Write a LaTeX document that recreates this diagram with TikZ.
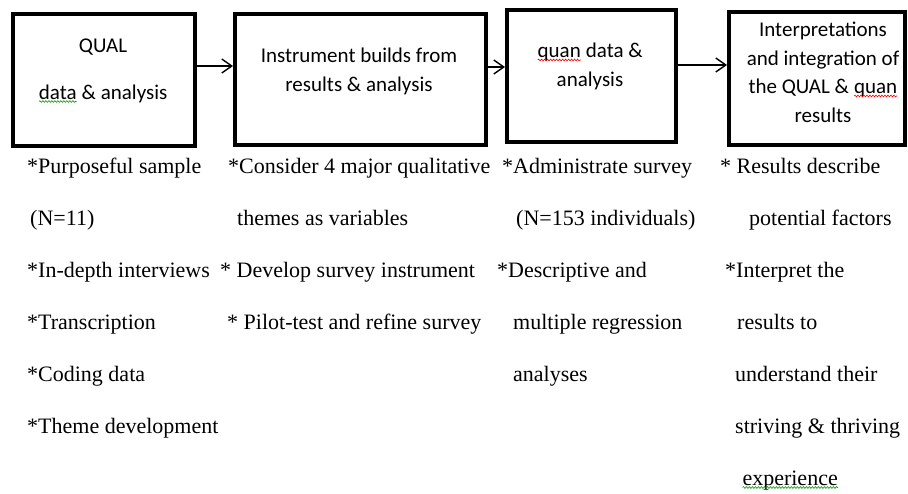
\documentclass[tikz,border=0pt]{standalone}
\usepackage{fontspec}
\setmainfont{Liberation Serif}
\newfontfamily\boxfont{Carlito}
\usepackage{xcolor}
\usetikzlibrary{arrows.meta, positioning, calc, decorations.pathmorphing}

% spell-check squiggles
\newcommand\squig[2]{\tikz[baseline=(sq.base)]{\node[inner sep=0pt,outer sep=0pt] (sq) {#2};
	\draw[#1,line width=0.6pt,decorate,decoration={snake,amplitude=0.9pt,segment length=3pt}]
	([yshift=-2.5pt]sq.base west) -- ([yshift=-2.5pt]sq.base east);}}

\begin{document}
\begin{tikzpicture}[x=1pt,y=-1pt,
	stage/.style={draw,line width=4pt,inner sep=0pt},
	stage text/.style={font=\boxfont\fontsize{21}{28.5}\selectfont,align=center,anchor=base,inner sep=0pt},
	step text/.style={font=\fontsize{22}{26}\selectfont,anchor=base west,inner sep=0pt},
	flow/.style={-{Straight Barb[length=10pt,width=14pt]},line width=1.4pt}]
	
	\useasboundingbox (0,0) rectangle (908,493);
	
	\node[stage,minimum width=182pt,minimum height=132pt] (qual) at (104,80) {};
	\node[stage,minimum width=251pt,minimum height=131pt] (instr) at (360.5,79.5) {};
	\node[stage,minimum width=169pt,minimum height=132pt] (quan) at (591.5,76) {};
	\node[stage,minimum width=176pt,minimum height=133pt] (interp) at (817,78.5) {};
	
	% labels sit on the baseline of their last line
	\node[stage text] (qual label) at (103,99) {QUAL\\[18.5pt]\squig{green!60!black}{data} \& analysis};
	\node[stage text] (instr label) at (359,91) {Instrument builds from\\results \& analysis};
	\node[stage text] (quan label) at (590,86) {\squig{red}{quan} data \&\\analysis};
	\node[stage text] (interp label) at (823,122) {Interpretations\\and integration of\\the QUAL \& \squig{red}{quan}\\results};
	
	\path ([yshift=14pt]qual.east) coordinate (qual out);
	\path ([yshift=12.5pt]instr.east) coordinate (instr out);
	\path ([yshift=11pt]quan.east) coordinate (quan out);
	\draw[flow] (qual out) -- (qual out -| instr.west);
	\draw[flow] (instr out) -- (instr out -| quan.west);
	\draw[flow] (quan out) -- (quan out -| interp.west);
	
	\foreach \x/\y/\t [count=\i] in {27/173/{*Purposeful sample}, 30/225/{(N=11)},
		27/277/{*In-depth interviews}, 27/329/{*Transcription},
		27/381/{*Coding data}, 27/433/{*Theme development}}
		\node[step text] (qual-\i) at (\x,\y) {\t};
	
	\foreach \x/\y/\t [count=\i] in {228/173/{*Consider 4 major qualitative},
		237/225/{themes as variables}, 220/277/{* Develop survey instrument},
		227/329/{* Pilot-test and refine survey}}
		\node[step text] (instr-\i) at (\x,\y) {\t};
	
	\foreach \x/\y/\t [count=\i] in {502/173/{*Administrate survey},
		516/225/{(N=153 individuals)}, 497/277/{*Descriptive and},
		513/329/{multiple regression}, 513/381/{analyses}}
		\node[step text] (quan-\i) at (\x,\y) {\t};
	
	\foreach \x/\y/\t [count=\i] in {720/173/{* Results describe},
		749/225/{potential factors}, 725/277/{*Interpret the},
		737/329/{results to}, 735/381/{understand their},
		735/433/{striving \& thriving}, 742/485/{\squig{green!60!black}{experience}}}
		\node[step text] (interp-\i) at (\x,\y) {\t};
\end{tikzpicture}
\end{document}
